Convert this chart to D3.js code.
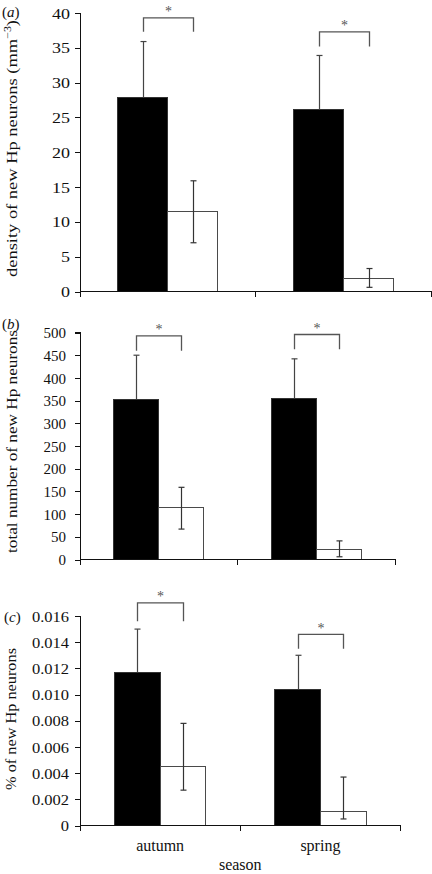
<!DOCTYPE html>
<html>
<head>
<meta charset="utf-8">
<script src="https://cdn.jsdelivr.net/npm/d3@7"></script>
<style>
  html, body { margin: 0; padding: 0; background: #fff; }
  svg { display: block; }
  text { font-family: "Liberation Serif", "Times New Roman", serif; fill: #111; }
</style>
</head>
<body>
<svg id="chart" width="432" height="874"></svg>
<script>
// ---------------- data ----------------
const seasons = ["autumn", "spring"];
const groups = ["dark", "light"];

// (a) density of new Hp neurons (mm^-3)
const densityDark = [27.9, 26.1];
const densityDarkErrHi = [35.9, 33.9];
const densityLight = [11.5, 1.9];
const densityLightErrHi = [15.9, 3.3];
const densityLightErrLo = [7.0, 0.6];
const densityTicks = [0, 5, 10, 15, 20, 25, 30, 35, 40];
const densityTickLabels = ["0", "5", "10", "15", "20", "25", "30", "35", "40"];
const densitySigTop = [39.3, 37.3];
const densitySigLeg = [37.3, 35.2];

// (b) total number of new Hp neurons
const totalDark = [353, 355];
const totalDarkErrHi = [450, 442];
const totalLight = [114, 23];
const totalLightErrHi = [159, 41];
const totalLightErrLo = [67, 6];
const totalTicks = [0, 50, 100, 150, 200, 250, 300, 350, 400, 450, 500];
const totalTickLabels = ["0", "50", "100", "150", "200", "250", "300", "350", "400", "450", "500"];
const totalSigTop = [492.5, 495.6];
const totalSigLeg = [460, 463];

// (c) % of new Hp neurons
const pctDark = [0.0117, 0.0104];
const pctDarkErrHi = [0.0150, 0.0130];
const pctLight = [0.0045, 0.0011];
const pctLightErrHi = [0.0078, 0.0037];
const pctLightErrLo = [0.0027, 0.0005];
const pctTicks = [0, 0.002, 0.004, 0.006, 0.008, 0.010, 0.012, 0.014, 0.016];
const pctTickLabels = ["0", "0.002", "0.004", "0.006", "0.008", "0.010", "0.012", "0.014", "0.016"];
const pctSigTop = [0.0170, 0.0146];
const pctSigLeg = [0.0156, 0.0135];

const sigMark = "*";
const xTitle = "season";

// ---------------- layout ----------------
const panels = [
  { letter: "a", title: ["density of new Hp neurons (mm", "\u22123", ")"], titleLen: 257, titleX: 17, titleY: 148.5,
    letterY: 17, letterX: 2,
    xRange: [80, 431.5], yRange: [291.5, 13], yMax: 40, labelGap: 10, tickStretch: 1.2,
    dark: densityDark, darkHi: densityDarkErrHi, light: densityLight, lightHi: densityLightErrHi, lightLo: densityLightErrLo,
    ticks: densityTicks, tickLabels: densityTickLabels, sigTop: densitySigTop, sigLeg: densitySigLeg, showCats: false },
  { letter: "b", title: ["total number of new Hp neurons"], titleLen: 223, titleX: 17, titleY: 441.5,
    letterY: 329, letterX: 2,
    xRange: [80, 395.5], yRange: [559.5, 332.5], yMax: 500, labelGap: 14, tickStretch: 1.0,
    dark: totalDark, darkHi: totalDarkErrHi, light: totalLight, lightHi: totalLightErrHi, lightLo: totalLightErrLo,
    ticks: totalTicks, tickLabels: totalTickLabels, sigTop: totalSigTop, sigLeg: totalSigLeg, showCats: false },
  { letter: "c", title: ["% of new Hp neurons"], titleLen: 142, titleX: 16, titleY: 719,
    letterY: 622, letterX: 4,
    xRange: [80, 400.5], yRange: [825.5, 616], yMax: 0.016, labelGap: 11, tickStretch: 1.1,
    dark: pctDark, darkHi: pctDarkErrHi, light: pctLight, lightHi: pctLightErrHi, lightLo: pctLightErrLo,
    ticks: pctTicks, tickLabels: pctTickLabels, sigTop: pctSigTop, sigLeg: pctSigLeg, showCats: true }
];

const svg = d3.select("#chart");

panels.forEach(p => {
  const g = svg.append("g");
  const x = d3.scaleBand().domain(seasons).range(p.xRange).paddingInner(0.43).paddingOuter(0.215);
  const sub = d3.scaleBand().domain(groups).range([0, x.bandwidth()]);
  const y = d3.scaleLinear().domain([0, p.yMax]).range(p.yRange);

  const cx = (i, grp) => x(seasons[i]) + sub(grp) + sub.bandwidth() / 2;

  // bars
  g.selectAll(".dark").data(seasons).join("rect")
    .attr("x", d => x(d) + sub("dark"))
    .attr("width", sub.bandwidth())
    .attr("y", (d, i) => y(p.dark[i]))
    .attr("height", (d, i) => y(0) - y(p.dark[i]))
    .attr("fill", "#000").attr("stroke", "#333").attr("stroke-width", 1)
    .attr("shape-rendering", "crispEdges");
  g.selectAll(".light").data(seasons).join("rect")
    .attr("x", d => x(d) + sub("light"))
    .attr("width", sub.bandwidth())
    .attr("y", (d, i) => y(p.light[i]))
    .attr("height", (d, i) => y(0) - y(p.light[i]))
    .attr("fill", "#fff").attr("stroke", "#4a4a4a").attr("stroke-width", 1)
    .attr("shape-rendering", "crispEdges");

  // error bars
  const cap = 3;
  seasons.forEach((s, i) => {
    const xd = Math.round(cx(i, "dark")) + 0.5;
    g.append("line").attr("x1", xd).attr("x2", xd).attr("y1", y(p.dark[i])).attr("y2", y(p.darkHi[i]))
      .attr("stroke", "#444").attr("stroke-width", 1.2);
    g.append("line").attr("x1", xd - cap).attr("x2", xd + cap).attr("y1", y(p.darkHi[i])).attr("y2", y(p.darkHi[i]))
      .attr("stroke", "#444").attr("stroke-width", 1.2);
    const xl = Math.round(cx(i, "light")) + 0.5;
    g.append("line").attr("x1", xl).attr("x2", xl).attr("y1", y(p.lightLo[i])).attr("y2", y(p.lightHi[i]))
      .attr("stroke", "#333").attr("stroke-width", 1.2);
    [p.lightLo[i], p.lightHi[i]].forEach(v => {
      g.append("line").attr("x1", xl - cap).attr("x2", xl + cap).attr("y1", y(v)).attr("y2", y(v))
        .attr("stroke", "#333").attr("stroke-width", 1.2);
    });

    // significance bracket
    const top = y(p.sigTop[i]), leg = y(p.sigLeg[i]);
    g.append("path")
      .attr("d", `M${xd},${leg}V${top}H${xl}V${leg}`)
      .attr("fill", "none").attr("stroke", "#555").attr("stroke-width", 1.3);
    g.append("text").attr("x", (xd + xl) / 2).attr("y", top - 1.5)
      .attr("text-anchor", "middle").attr("font-size", 14).style("fill", "#555")
      .text(sigMark);
  });

  // y axis
  const yAxis = d3.axisLeft(y).tickValues(p.ticks)
    .tickFormat((d, i) => p.tickLabels[i]).tickSize(5).tickPadding(p.labelGap - 5);
  const ya = g.append("g").attr("transform", `translate(${p.xRange[0]},0)`).call(yAxis);
  ya.select(".domain").attr("d", `M-5,${p.yRange[1]}H0V${p.yRange[0]}`).attr("stroke", "#111");
  ya.selectAll(".tick line").attr("stroke", "#111");
  ya.selectAll(".tick text")
    .attr("font-family", "Liberation Serif, serif").attr("font-size", 15).style("fill", "#111")
    .attr("dy", "0.34em")
    .each(function () {
      const len = this.getComputedTextLength();
      d3.select(this).attr("textLength", len * p.tickStretch).attr("lengthAdjust", "spacingAndGlyphs");
    });
  ya.attr("shape-rendering", "crispEdges");

  // x axis: baseline plus boundary ticks
  const step = x.step();
  const bounds = d3.range(seasons.length + 1).map(k => p.xRange[0] + k * step);
  const y0 = y(0);
  g.append("line").attr("x1", p.xRange[0]).attr("x2", p.xRange[1]).attr("y1", y0).attr("y2", y0)
    .attr("stroke", "#111").attr("shape-rendering", "crispEdges");
  g.selectAll(".xtick").data(bounds).join("line")
    .attr("x1", d => Math.min(d, p.xRange[1] - 0.5)).attr("x2", d => Math.min(d, p.xRange[1] - 0.5))
    .attr("y1", y0).attr("y2", y0 + 5)
    .attr("stroke", "#111").attr("shape-rendering", "crispEdges");

  if (p.showCats) {
    g.selectAll(".cat").data(seasons).join("text")
      .attr("x", d => x(d) + x.bandwidth() / 2)
      .attr("y", y0 + 25)
      .attr("text-anchor", "middle").attr("font-size", 16)
      .text(d => d);
    g.append("text").attr("x", p.xRange[0] + step).attr("y", y0 + 44)
      .attr("text-anchor", "middle").attr("font-size", 16)
      .text(xTitle);
  }

  // y title
  const t = g.append("text")
    .attr("transform", `translate(${p.titleX},${p.titleY}) rotate(-90)`)
    .attr("text-anchor", "middle").attr("font-size", 15.5);
  t.append("tspan").text(p.title[0]);
  if (p.title.length > 1) {
    t.append("tspan").attr("font-size", 10).attr("dy", -6).text(p.title[1]);
    t.append("tspan").attr("dy", 6).text(p.title[2]);
  }
  t.attr("textLength", p.titleLen).attr("lengthAdjust", "spacingAndGlyphs");

  // panel letter
  const lt = g.append("text").attr("x", p.letterX).attr("y", p.letterY).attr("font-size", 15);
  lt.append("tspan").text("(");
  lt.append("tspan").attr("font-style", "italic").text(p.letter);
  lt.append("tspan").text(")");
});
</script>
</body>
</html>
